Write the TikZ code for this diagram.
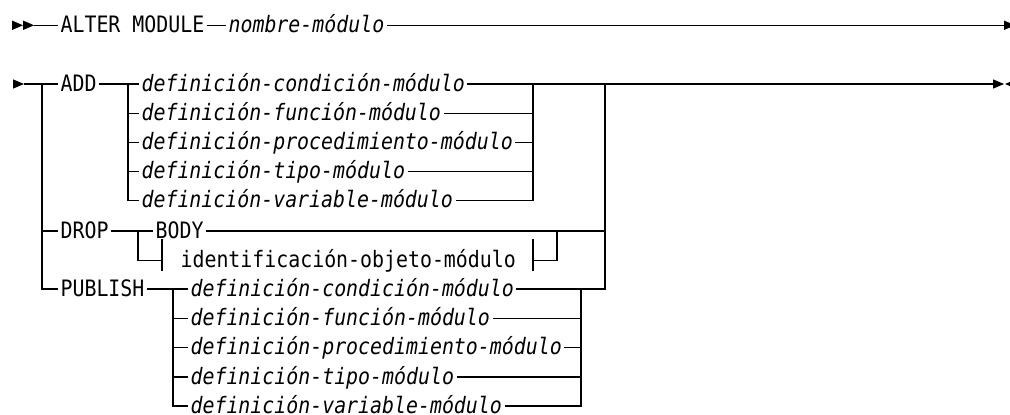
\documentclass[tikz,border=0pt]{standalone}
\usepackage{fontspec}
\setmonofont[FakeStretch=0.88]{DejaVu Sans Mono}
\newcommand\rrf{\ttfamily\fontsize{22.6}{26}\selectfont}
\begin{document}
\begin{tikzpicture}[x=1pt,y=-1pt,line width=1.2pt,
  kw/.style={anchor=west,inner xsep=2pt,inner ysep=0pt,text height=14.4pt,text depth=0pt,font=\rrf},
  var/.style={kw,font=\rrf\itshape}]
\clip (0,0) rectangle (1010,415);
% ---- row 1
\fill (12,20.5)--(23,25.3)--(12,30)--cycle;
\fill (23,20.5)--(34,25.3)--(23,30)--cycle;
\coordinate (s1) at (34,25.3);
\node[kw] (alter) at (58,25.3) {ALTER MODULE};
\node[var] (nombre) at (226,25.3) {nombre-módulo};
\coordinate (e1) at (1004,25.3);
\draw (s1) -- (alter.west);
\draw (alter.east) -- (nombre.west);
\draw (nombre.east) -- (e1);
\fill (1004,20.5)--(1015,25.3)--(1004,30)--cycle;
% ---- row 2
\fill (13,79.3)--(24,84)--(13,88.7)--cycle;
\coordinate (s2) at (24,84);
\coordinate (j1) at (42,84);
\coordinate (a1) at (128,84);
\coordinate (a2) at (533,84);
\coordinate (j2) at (605,84);
\coordinate (e2) at (993,84);
\fill (993,79.3)--(1004,84)--(993,88.7)--cycle;
\fill (1016,79.3)--(1005,84)--(1016,88.7)--cycle;
\node[kw] (add) at (58,84) {ADD};
\node[var] (ai1) at (139,84) {definición-condición-módulo};
\node[var] (ai2) at (139,113.1) {definición-función-módulo};
\node[var] (ai3) at (139,142.2) {definición-procedimiento-módulo};
\node[var] (ai4) at (139,171.3) {definición-tipo-módulo};
\node[var] (ai5) at (139,200.2) {definición-variable-módulo};
\node[kw] (drop) at (58,231) {DROP};
\node[kw] (body) at (153,231) {BODY};
\node[kw] (ident) at (178,260.5) {identificación-objeto-módulo};
\node[kw] (publish) at (58,289) {PUBLISH};
\node[var] (pi1) at (188,289) {definición-condición-módulo};
\node[var] (pi2) at (188,318.3) {definición-función-módulo};
\node[var] (pi3) at (188,347.6) {definición-procedimiento-módulo};
\node[var] (pi4) at (188,376.9) {definición-tipo-módulo};
\node[var] (pi5) at (188,406) {definición-variable-módulo};
% main
\draw (s2) -- (add.west);
\draw (j1) |- (publish.west);
\draw (j1 |- drop.west) -- (drop.west);
\draw (j2) -- (e2);
% ADD group
\draw (add.east) -- (ai1.west);
\draw (a1) |- (ai5.west);
\foreach \n in {ai2,ai3,ai4} \draw (a1 |- \n.west) -- (\n.west);
\draw (ai1.east) -- (j2);
\draw (a2) |- (ai5.east);
\foreach \n in {ai2,ai3,ai4} \draw (\n.east) -- (a2 |- \n.east);
% DROP group
\coordinate (d1) at (138,231);
\coordinate (d2) at (557,231);
\coordinate (tl) at (162,260.5);
\coordinate (tr) at (533,260.5);
\draw (drop.east) -- (body.west);
\draw (body.east) -- (j2 |- body.east);
\draw (d1) |- (tl);
\draw ([yshift=-10pt]tl) -- ([yshift=22pt]tl);
\draw ([yshift=-10pt]tr) -- ([yshift=22pt]tr);
\draw (tr) -| (d2);
% PUBLISH group
\coordinate (p1) at (173,289);
\coordinate (p2) at (581,289);
\draw (publish.east) -- (pi1.west);
\draw (p1) |- (pi5.west);
\foreach \n in {pi2,pi3,pi4} \draw (p1 |- \n.west) -- (\n.west);
\draw (j2) |- (pi1.east);
\draw (p2) |- (pi5.east);
\foreach \n in {pi2,pi3,pi4} \draw (\n.east) -- (p2 |- \n.east);
\end{tikzpicture}
\end{document}
